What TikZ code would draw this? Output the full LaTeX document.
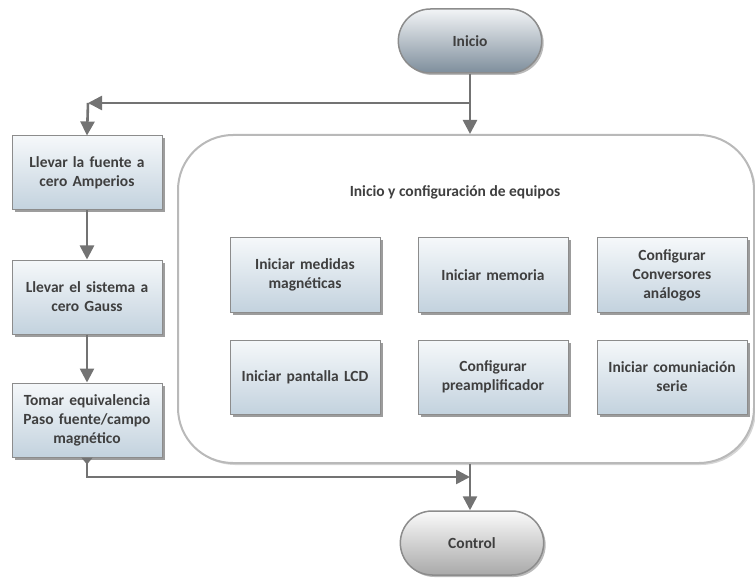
\documentclass[tikz,border=0pt]{standalone}
\usepackage{fontspec}
\setmainfont{Carlito}
\usetikzlibrary{shadows,arrows.meta,shapes.misc}
\definecolor{linegray}{HTML}{737373}
\definecolor{boxedge}{HTML}{8C8C8C}
\definecolor{boxtop}{HTML}{F5F8FA}
\definecolor{boxbot}{HTML}{C3D2DE}
\definecolor{textgray}{HTML}{3F3F3F}
\definecolor{termtop}{HTML}{F2F4F6}
\definecolor{termbot}{HTML}{7E8E9C}
\definecolor{ctrltop}{HTML}{FAFAFA}
\definecolor{ctrlbot}{HTML}{A9A9A9}
\begin{document}
\begin{tikzpicture}[x=1pt,y=-1pt,
  label font/.style={font=\bfseries\fontsize{15.5}{19}\selectfont, text=textgray},
  stepbox/.style={draw=boxedge, line width=1pt, top color=boxtop, bottom color=boxbot,
    minimum width=150pt, minimum height=74pt, text width=146pt, align=center, inner sep=2pt, label font,
    drop shadow={shadow xshift=2.5pt, shadow yshift=-2.5pt, fill=black!70, opacity=.55}},
  terminal/.style={rounded rectangle, draw=boxedge, line width=1.5pt,
    minimum width=150pt, minimum height=64pt, label font,
    drop shadow={shadow xshift=2pt, shadow yshift=-2pt, fill=black!60, opacity=.45}},
  groupbox/.style={draw=gray!55, line width=2pt, fill=white, rounded corners=55pt,
    minimum width=576pt, minimum height=328pt,
    drop shadow={shadow xshift=2pt, shadow yshift=-2pt, fill=black!40, opacity=.4}},
  conn/.style={draw=linegray, line width=2.6pt, -{Triangle[length=14pt,width=14pt]}}]
\useasboundingbox (0,0) rectangle (755,588);

% terminals
\node[terminal, top color=termtop, bottom color=termbot] (inicio) at (470,41) {Inicio};
\node[terminal, top color=ctrltop, bottom color=ctrlbot] (control) at (472,543) {Control};

% group of start-up tasks
\node[groupbox] (cfg) at (466,299) {};
\node[label font] (cfgtitle) at (455,192) {Inicio y configuración de equipos};

\node[stepbox] (m1) at (305,275) {Iniciar medidas\\magnéticas};
\node[stepbox] (m2) at (493,275) {Iniciar memoria};
\node[stepbox] (m3) at (672,275) {Configurar\\Conversores\\análogos};
\node[stepbox] (m4) at (305,377) {Iniciar pantalla LCD};
\node[stepbox] (m5) at (493,377) {Configurar\\preamplificador};
\node[stepbox] (m6) at (672,377) {Iniciar comuniación\\serie};

% left column
\node[stepbox] (b1) at (87,173) {Llevar la fuente a\\cero Amperios};
\node[stepbox] (b2) at (87,297) {Llevar el sistema a\\cero Gauss};
\node[stepbox] (b3) at (87,420) {Tomar equivalencia\\Paso fuente/campo\\magnético};

% connectors
\coordinate (jtop) at (470,103);
\coordinate (ctop) at (88,103);
\coordinate (jbot) at (470,477);

\draw[conn] (inicio.south) -- (inicio.south |- cfg.north);
\draw[conn] (jtop) -- (ctop);
\draw[conn] (ctop) -- (b1.north);
\draw[conn] (b1.south) -- (b2.north);
\draw[conn] (b2.south) -- (b3.north);
\draw[conn, {Triangle[reversed,length=7pt,width=11pt]}-{Triangle[length=14pt,width=14pt]}]
  (b3.south) |- (jbot);
\draw[conn] (inicio.south |- cfg.south) -- (control.north -| inicio.south);
\end{tikzpicture}
\end{document}
